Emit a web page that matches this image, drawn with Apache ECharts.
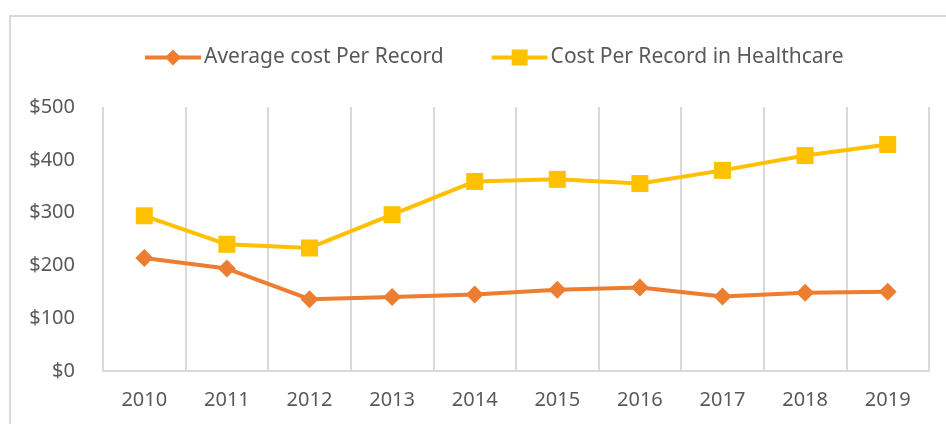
<!DOCTYPE html>
<html>
<head>
<meta charset="utf-8">
<script src="https://cdn.jsdelivr.net/npm/echarts@6/dist/echarts.min.js"></script>
<style>
  html, body { margin: 0; padding: 0; background: #fff; }
  #main { width: 946px; height: 424px; }
</style>
</head>
<body>
<div id="main"></div>
<script>
var years = ['2010', '2011', '2012', '2013', '2014', '2015', '2016', '2017', '2018', '2019'];
var avgCost = [214, 194, 136, 140, 145, 154, 158, 141, 148, 150];
var healthCost = [294, 240, 233, 296, 359, 363, 355, 380, 408, 429];

var myChart = echarts.init(document.querySelector('#main'));
var textColor = '#595959';
var gridColor = '#d9d9d9';
var font = 'Noto Sans';

var option = {
    backgroundColor: '#fff',
    animation: false,
    graphic: [{
        type: 'rect',
        shape: { x: 10, y: 16, width: 960, height: 440 },
        style: { fill: 'none', stroke: gridColor, lineWidth: 2 },
        silent: true
    }],
    legend: {
        top: 42,
        left: 138,
        itemWidth: 56,
        itemHeight: 20,
        itemGap: 46,
        lineStyle: { width: 4 },
        textStyle: { color: textColor, fontSize: 21, fontFamily: font, padding: [0, 0, 0, -2] },
        data: ['Average cost Per Record', 'Cost Per Record in Healthcare']
    },
    grid: { left: 103, right: 17, top: 107, bottom: 53 },
    xAxis: {
        type: 'category',
        data: years,
        boundaryGap: true,
        axisLine: { lineStyle: { color: gridColor, width: 2 } },
        axisTick: { show: false },
        splitLine: { show: true, lineStyle: { color: gridColor, width: 2 } },
        axisLabel: { color: textColor, fontSize: 20, fontFamily: font, margin: 19 }
    },
    yAxis: {
        type: 'value',
        min: 0,
        max: 500,
        interval: 100,
        axisLine: { show: false },
        axisTick: { show: false },
        splitLine: { show: false },
        axisLabel: { color: textColor, fontSize: 20, fontFamily: font, margin: 28, formatter: '${value}' }
    },
    series: [
        {
            name: 'Average cost Per Record',
            type: 'line',
            data: avgCost,
            symbol: 'diamond',
            symbolSize: 18,
            color: '#ED7D31',
            lineStyle: { width: 4 }
        },
        {
            name: 'Cost Per Record in Healthcare',
            type: 'line',
            data: healthCost,
            symbol: 'rect',
            symbolSize: 17,
            color: '#FFC000',
            lineStyle: { width: 4 }
        }
    ]
};

myChart.setOption(option);
</script>
</body>
</html>
